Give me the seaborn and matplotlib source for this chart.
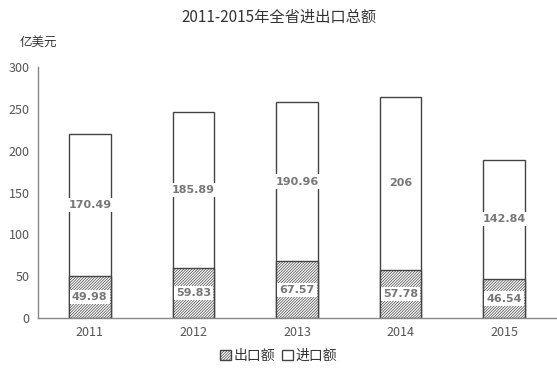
import matplotlib
matplotlib.use("Agg")
import matplotlib.pyplot as plt
import seaborn as sns
import pandas as pd
from matplotlib.patches import Patch

years = ["2011", "2012", "2013", "2014", "2015"]
export_vals = [49.98, 59.83, 67.57, 57.78, 46.54]
import_vals = [170.49, 185.89, 190.96, 206, 142.84]
yticks = [0, 50, 100, 150, 200, 250, 300]

sns.set_theme(style="white")
plt.rcParams['font.family'] = ['Noto Sans CJK SC', 'DejaVu Sans']
plt.rcParams['hatch.color'] = '#666666'
plt.rcParams['hatch.linewidth'] = 0.5

fig = plt.figure(figsize=(5.57, 3.9), dpi=100)
ax = fig.add_axes([38/557, 1 - 318/390, (556-38)/557, (318-67)/390])

totals = [e + i for e, i in zip(export_vals, import_vals)]
df_tot = pd.DataFrame({"year": years, "v": totals})
df_exp = pd.DataFrame({"year": years, "v": export_vals})

sns.barplot(data=df_tot, x="year", y="v", ax=ax, color="white", width=0.4,
            edgecolor="#444444", linewidth=1.0)
n_before = len(ax.patches)
sns.barplot(data=df_exp, x="year", y="v", ax=ax, color="white", width=0.4,
            edgecolor="#444444", linewidth=1.0)
for p in ax.patches[n_before:]:
    p.set_hatch("////////////")

for i, (e, im) in enumerate(zip(export_vals, import_vals)):
    ax.text(i, e / 2, f"{e:g}", ha="center", va="center", fontsize=8, color="#777777",
            fontweight="bold", family=["DejaVu Sans"],
            bbox=dict(facecolor="white", edgecolor="none", pad=1.5))
    ax.text(i, e + im / 2, f"{im:g}", ha="center", va="center", fontsize=8, color="#777777",
            fontweight="bold", family=["DejaVu Sans"],
            bbox=dict(facecolor="white", edgecolor="none", pad=1.5))

ax.set_ylim(0, 300)
ax.set_xlim(-0.5, 4.5)
ax.set_yticks(yticks)
ax.set_xlabel("")
ax.set_ylabel("")
ax.tick_params(axis="both", length=0, labelsize=9, colors="#555555", pad=6)
for s in ["top", "right"]:
    ax.spines[s].set_visible(False)
for s in ["left", "bottom"]:
    ax.spines[s].set_color("#888888")
    ax.spines[s].set_linewidth(1.0)

fig.text(0.5, 1 - 17/390, "2011-2015年全省进出口总额", ha="center", va="center",
         fontsize=11, color="#333333")
fig.text(38/557, 1 - 42/390, "亿美元", ha="center", va="center", fontsize=9, color="#333333")

handles = [Patch(facecolor="white", edgecolor="#444444", hatch="////////////", label="出口额"),
           Patch(facecolor="white", edgecolor="#444444", label="进口额")]
fig.legend(handles=handles, loc="center", bbox_to_anchor=(0.5, 1 - 356/390), ncol=2,
           frameon=False, fontsize=10, handlelength=0.8, handleheight=0.8,
           handletextpad=0.2, columnspacing=0.5, labelcolor="#333333")

fig.savefig("out.png", dpi=100)
